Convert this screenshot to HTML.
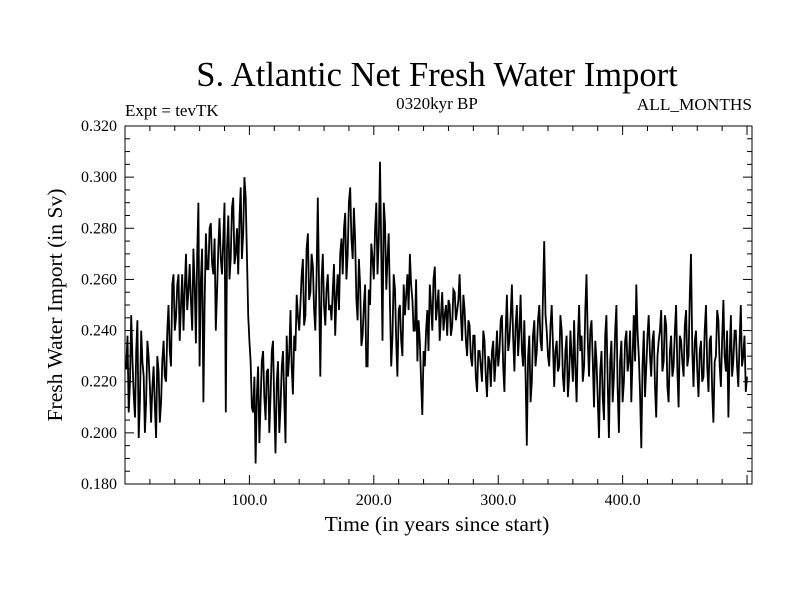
<!DOCTYPE html>
<html><head><meta charset="utf-8"><style>
body{margin:0;background:#fff;}
svg text{font-family:"Liberation Serif",serif;fill:#000;}
</style></head><body>
<svg width="800" height="600">
<rect width="800" height="600" fill="#fff"/>
<text x="437" y="86" font-size="34.5" text-anchor="middle">S. Atlantic Net Fresh Water Import</text>
<text x="125" y="116" font-size="17">Expt = tevTK</text>
<text x="437" y="109" font-size="17" text-anchor="middle">0320kyr BP</text>
<text x="752" y="110" font-size="17.3" text-anchor="end">ALL_MONTHS</text>
<text x="437" y="531" font-size="21.6" text-anchor="middle">Time (in years since start)</text>
<text transform="translate(62,305) rotate(-90)" font-size="21.6" text-anchor="middle">Fresh Water Import (in Sv)</text>
<g id="axes"></g>
<polyline id="series" fill="none" stroke="#000" stroke-width="1.8" stroke-linejoin="miter"/>
<rect x="125" y="126" width="627" height="358" fill="none" stroke="#000" stroke-width="1"/>
</svg>
<script>
const oddValues = [
0.225,0.208,0.246,0.215,0.232,0.198,0.240,0.222,0.212,0.230,
0.204,0.226,0.198,0.224,0.212,0.236,0.220,0.250,0.226,0.262,
0.245,0.262,0.250,0.240,0.270,0.255,0.252,0.272,0.235,0.290,
0.260,0.212,0.278,0.264,0.282,0.262,0.240,0.272,0.268,0.276,
0.208,0.285,0.268,0.292,0.270,0.262,0.296,0.278,0.292,0.246,
0.228,0.208,0.188,0.226,0.212,0.232,0.205,0.225,0.215,0.236,
0.192,0.228,0.210,0.232,0.196,0.222,0.248,0.215,0.232,0.246,
0.250,0.268,0.246,0.278,0.255,0.265,0.240,0.292,0.222,0.270,
0.242,0.262,0.250,0.256,0.238,0.262,0.270,0.262,0.286,0.270,
0.296,0.268,0.276,0.244,0.258,0.238,0.258,0.226,0.250,0.268,
0.280,0.262,0.306,0.236,0.282,0.268,0.250,0.238,0.256,0.222,
0.250,0.230,0.246,0.262,0.270,0.252,0.240,0.228,0.236,0.207,
0.226,0.248,0.258,0.240,0.265,0.250,0.236,0.255,0.246,0.238,
0.250,0.242,0.255,0.248,0.262,0.236,0.248,0.230,0.242,0.226,
0.238,0.216,0.232,0.220,0.236,0.214,0.228,0.232,0.220,0.240,
0.232,0.246,0.216,0.254,0.236,0.258,0.224,0.250,0.240,0.232,
0.244,0.195,0.238,0.220,0.244,0.232,0.250,0.232,0.275,0.240,
0.226,0.250,0.218,0.236,0.226,0.240,0.216,0.238,0.222,0.230,
0.244,0.212,0.250,0.238,0.226,0.262,0.222,0.244,0.210,0.228,
0.198,0.232,0.205,0.246,0.198,0.236,0.222,0.250,0.200,0.236,
0.220,0.240,0.228,0.212,0.246,0.258,0.230,0.194,0.240,0.226,
0.246,0.222,0.240,0.206,0.236,0.248,0.228,0.242,0.212,0.238,
0.226,0.250,0.210,0.236,0.222,0.248,0.230,0.270,0.218,0.240,
0.214,0.236,0.222,0.250,0.216,0.238,0.204,0.230,0.244,0.218,
0.252,0.224,0.206,0.246,0.228,0.240,0.218,0.250,0.230,0.216];
const evenValues = [
0.238,0.220,0.228,0.206,0.244,0.212,0.228,0.200,0.236,0.218,
0.218,0.210,0.230,0.204,0.228,0.222,0.240,0.232,0.258,0.240,
0.258,0.236,0.262,0.256,0.248,0.266,0.240,0.258,0.270,0.226,
0.272,0.250,0.264,0.280,0.266,0.276,0.256,0.284,0.262,0.290,
0.272,0.260,0.288,0.266,0.280,0.284,0.268,0.300,0.270,0.236,
0.210,0.222,0.215,0.196,0.228,0.214,0.224,0.200,0.232,0.210,
0.220,0.200,0.226,0.214,0.238,0.230,0.226,0.238,0.254,0.240,
0.262,0.242,0.272,0.252,0.270,0.248,0.262,0.256,0.260,0.250,
0.256,0.248,0.244,0.266,0.254,0.248,0.276,0.280,0.260,0.290,
0.276,0.288,0.252,0.268,0.234,0.250,0.226,0.256,0.274,0.260,
0.290,0.276,0.270,0.290,0.256,0.278,0.226,0.262,0.236,0.248,
0.236,0.258,0.254,0.248,0.258,0.240,0.260,0.244,0.220,0.232,
0.240,0.232,0.250,0.260,0.244,0.256,0.246,0.240,0.250,0.252,
0.238,0.256,0.244,0.252,0.246,0.254,0.236,0.244,0.230,0.238,
0.222,0.232,0.226,0.240,0.222,0.230,0.218,0.236,0.228,0.226,
0.244,0.226,0.240,0.232,0.246,0.238,0.242,0.230,0.254,0.226,
0.222,0.230,0.212,0.238,0.226,0.244,0.236,0.254,0.246,0.230,
0.242,0.234,0.232,0.224,0.246,0.222,0.232,0.214,0.240,0.220,
0.226,0.236,0.232,0.220,0.248,0.236,0.240,0.228,0.236,0.214,
0.224,0.214,0.238,0.220,0.228,0.212,0.240,0.218,0.228,0.212,
0.236,0.224,0.240,0.230,0.228,0.240,0.216,0.226,0.214,0.238,
0.230,0.236,0.218,0.230,0.240,0.224,0.246,0.218,0.232,0.222,
0.240,0.224,0.238,0.228,0.242,0.226,0.254,0.232,0.236,0.224,
0.232,0.220,0.240,0.226,0.236,0.216,0.228,0.248,0.226,0.236,
0.230,0.240,0.230,0.222,0.240,0.226,0.236,0.226,0.238,0.222];
const yTicks = [0.180,0.200,0.220,0.240,0.260,0.280,0.300,0.320];
const yTickLabels = ["0.180","0.200","0.220","0.240","0.260","0.280","0.300","0.320"];
const xTicks = [100,200,300,400];
const xTickLabels = ["100.0","200.0","300.0","400.0"];

const X0=125, X1=752, Y0=484, Y1=126;
const xmin=0, xmax=504, ymin=0.18, ymax=0.32;
const sx = v => X0 + (v - xmin) / (xmax - xmin) * (X1 - X0);
const sy = v => Y0 - (v - ymin) / (ymax - ymin) * (Y0 - Y1);
const NS="http://www.w3.org/2000/svg";
const axes=document.getElementById('axes');
function line(x1,y1,x2,y2,name){
  const l=document.createElementNS(NS,'line');
  l.setAttribute('x1',x1);l.setAttribute('y1',y1);l.setAttribute('x2',x2);l.setAttribute('y2',y2);
  l.setAttribute('stroke','#000');l.setAttribute('stroke-width','1');
  
  
  axes.appendChild(l);
}
function text(x,y,s,anchor,name){
  const t=document.createElementNS(NS,'text');
  t.setAttribute('x',x);t.setAttribute('y',y);t.setAttribute('font-size','16');t.setAttribute('text-anchor',anchor);
  t.textContent=s;
  
  
  axes.appendChild(t);
}
for (let v=0.18; v<=0.3201; v+=0.005){
  const y=sy(v); const major=Math.abs(Math.round(v/0.02)*0.02-v)<1e-6; const len=major?9:5;
  line(X0,y,X0+len,y,'y-tick');
  line(X1,y,X1-len,y,'y-tick-right');
}
yTicks.forEach((v,i)=>text(117,sy(v)+5,yTickLabels[i],'end','y-tick-label'));
for (let v=20; v<=500; v+=20){
  const x=sx(v); const major=v%100===0; const len=major?9:5;
  line(x,Y0,x,Y0-len,'x-tick');
  line(x,Y1,x,Y1+len,'x-tick-top');
}
xTicks.forEach((v,i)=>text(sx(v),505,xTickLabels[i],'middle','x-tick-label'));
const pts=[];
for (let i=0;i<oddValues.length;i++){
  pts.push(sx(1+2*i).toFixed(1)+','+sy(oddValues[i]).toFixed(1));
  if (i<evenValues.length) pts.push(sx(2+2*i).toFixed(1)+','+sy(evenValues[i]).toFixed(1));
}
document.getElementById('series').setAttribute('points', pts.join(' '));
</script>
</body></html>
